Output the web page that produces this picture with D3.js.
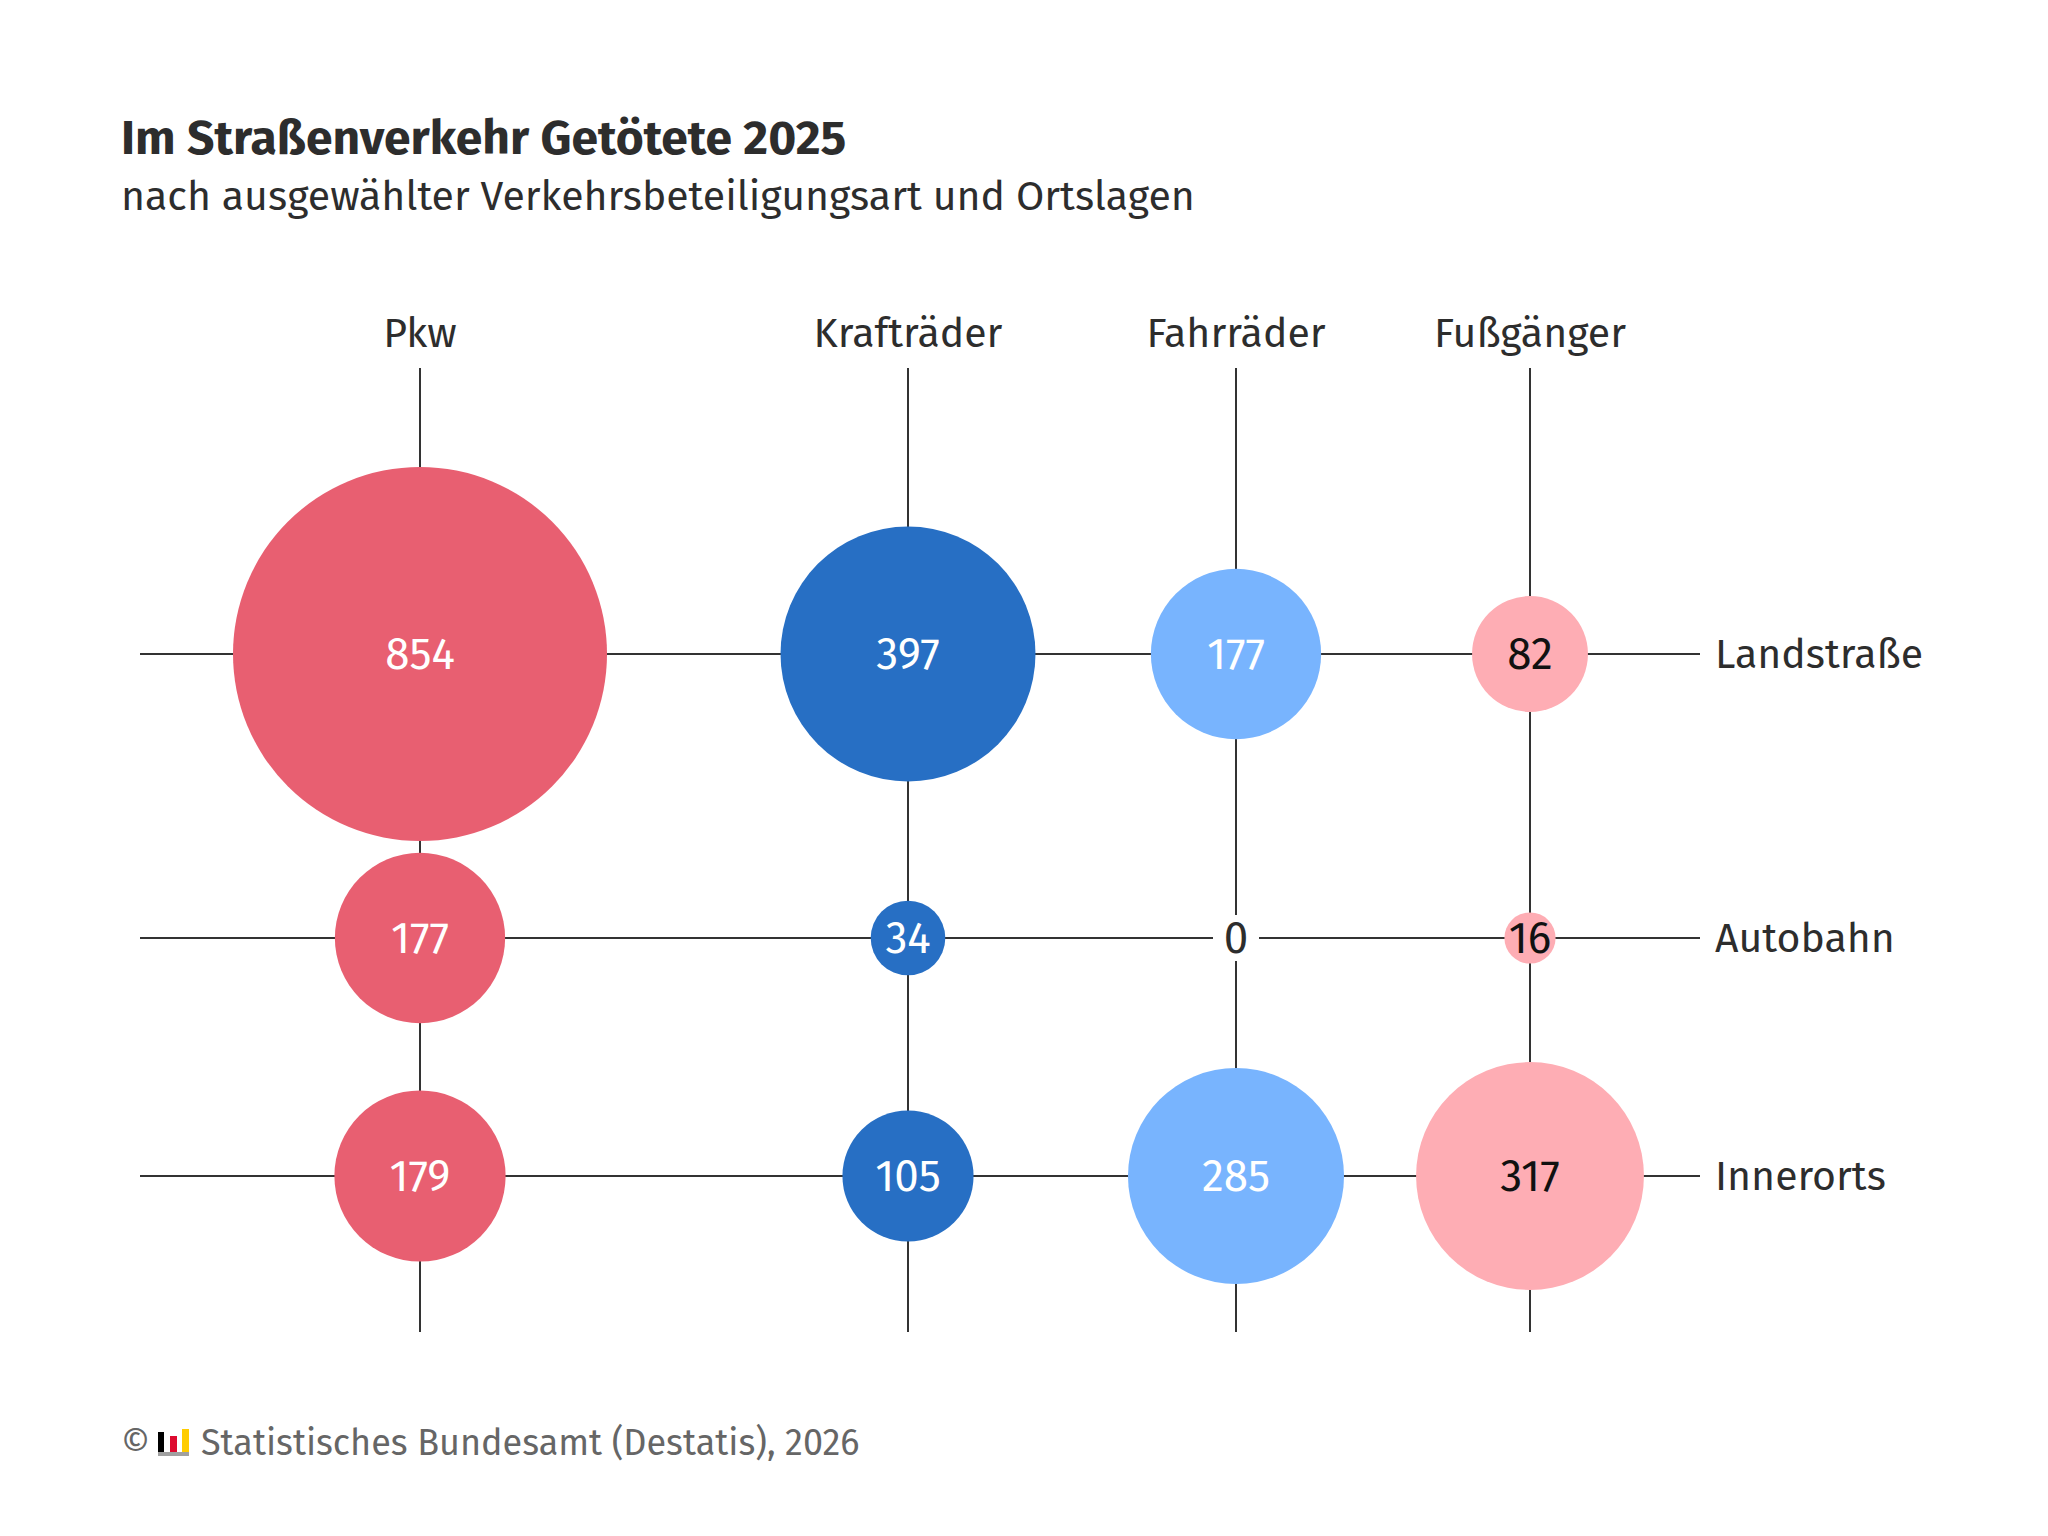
<!DOCTYPE html>
<html>
<head>
<meta charset="utf-8">
<script src="https://cdn.jsdelivr.net/npm/d3@7"></script>
<style>
  html, body { margin: 0; padding: 0; background: #fff; }
  svg text { font-family: "Fira Sans", Roboto, "Noto Sans", sans-serif; }
</style>
</head>
<body>
<svg id="chart" width="2048" height="1536"></svg>
<script>
// Verkehrsbeteiligung (columns) and Ortslage (rows)
var modes = ["Pkw", "Krafträder", "Fahrräder", "Fußgänger"];
var places = ["Landstraße", "Autobahn", "Innerorts"];

// killed persons per place, one value per mode
var landstrasse = [854, 397, 177, 82];
var autobahn = [177, 34, 0, 16];
var innerorts = [179, 105, 285, 317];

var modeColors = ["#e85f71", "#276fc4", "#78b4fe", "#feadb4"];
var labelColors = ["#ffffff", "#ffffff", "#ffffff", "#111111"];

var rowsData = [landstrasse, autobahn, innerorts];
var cells = [];
rowsData.forEach(function(vals, r){
	vals.forEach(function(v, c){
		cells.push({place: places[r], mode: modes[c], value: v, ci: c});
	});
});

var svg = d3.select("#chart");

// the grid is not evenly spaced in the original
var x = d3.scaleOrdinal().domain(modes).range([420, 908, 1236, 1530]);
var y = d3.scaleOrdinal().domain(places).range([654, 938, 1176]);
var r = d3.scaleSqrt().domain([0, 854]).range([0, 187]);

var lineLeft = 140, lineRight = 1700, lineTop = 368, lineBottom = 1332;

// title
svg.append("text")
	.attr("x", 121).attr("y", 154)
	.style("font-size", "48px")
	.style("font-weight", "bold")
	.style("fill", "#2d2d2d")
	.text("Im Straßenverkehr Getötete 2025");
svg.append("text")
	.attr("x", 121).attr("y", 210)
	.style("font-size", "41px")
	.style("fill", "#2d2d2d")
	.text("nach ausgewählter Verkehrsbeteiligungsart und Ortslagen");

var grid = svg.append("g");
// horizontal lines
grid.selectAll("line.h")
	.data(places)
	.enter()
	.append("line")
	.attr("class", "h")
	.attr("x1", lineLeft).attr("x2", lineRight)
	.attr("y1", function(d){ return y(d); })
	.attr("y2", function(d){ return y(d); })
	.style("stroke", "#333")
	.style("stroke-width", 2);
// vertical lines
grid.selectAll("line.v")
	.data(modes)
	.enter()
	.append("line")
	.attr("class", "v")
	.attr("y1", lineTop).attr("y2", lineBottom)
	.attr("x1", function(d){ return x(d); })
	.attr("x2", function(d){ return x(d); })
	.style("stroke", "#333")
	.style("stroke-width", 2);

// column labels
svg.selectAll("text.col")
	.data(modes)
	.enter()
	.append("text")
	.attr("class", "col")
	.attr("x", function(d){ return x(d); })
	.attr("y", 347)
	.style("text-anchor", "middle")
	.style("font-size", "41px")
	.style("fill", "#2d2d2d")
	.text(function(d){ return d; });

// row labels
svg.selectAll("text.row")
	.data(places)
	.enter()
	.append("text")
	.attr("class", "row")
	.attr("x", 1715)
	.attr("y", function(d){ return y(d); })
	.attr("dy", "0.35em")
	.style("font-size", "41px")
	.style("fill", "#2d2d2d")
	.text(function(d){ return d; });

// zero values get a white box so the lines break around the label
svg.selectAll("rect.zero")
	.data(cells.filter(function(d){ return d.value === 0; }))
	.enter()
	.append("rect")
	.attr("class", "zero")
	.attr("x", function(d){ return x(d.mode) - 23; })
	.attr("y", function(d){ return y(d.place) - 23; })
	.attr("width", 46)
	.attr("height", 46)
	.style("fill", "#fff");

// bubbles
svg.selectAll("circle")
	.data(cells.filter(function(d){ return d.value > 0; }))
	.enter()
	.append("circle")
	.attr("cx", function(d){ return x(d.mode); })
	.attr("cy", function(d){ return y(d.place); })
	.attr("r", function(d){ return r(d.value); })
	.style("fill", function(d){ return modeColors[d.ci]; });

// values
svg.selectAll("text.val")
	.data(cells)
	.enter()
	.append("text")
	.attr("class", "val")
	.attr("x", function(d){ return x(d.mode); })
	.attr("y", function(d){ return y(d.place); })
	.attr("dy", "0.35em")
	.style("text-anchor", "middle")
	.style("font-size", "44px")
	.style("fill", function(d){ return d.value === 0 ? "#2d2d2d" : labelColors[d.ci]; })
	.text(function(d){ return d.value; });

// footer with Destatis logo
var foot = svg.append("g");
foot.append("text")
	.attr("x", 121).attr("y", 1455)
	.style("font-size", "36px")
	.style("fill", "#666")
	.text("©");
foot.append("rect").attr("x", 158).attr("y", 1432).attr("width", 6).attr("height", 20).style("fill", "#000");
foot.append("rect").attr("x", 170).attr("y", 1436).attr("width", 7).attr("height", 16).style("fill", "#dd0b2f");
foot.append("rect").attr("x", 182).attr("y", 1429).attr("width", 7).attr("height", 23).style("fill", "#ffcc00");
foot.append("rect").attr("x", 158).attr("y", 1452).attr("width", 31).attr("height", 4).style("fill", "#a0a0a0");
foot.append("text")
	.attr("x", 201).attr("y", 1455)
	.style("font-size", "36px")
	.style("fill", "#666")
	.text("Statistisches Bundesamt (Destatis), 2026");
</script>
</body>
</html>
